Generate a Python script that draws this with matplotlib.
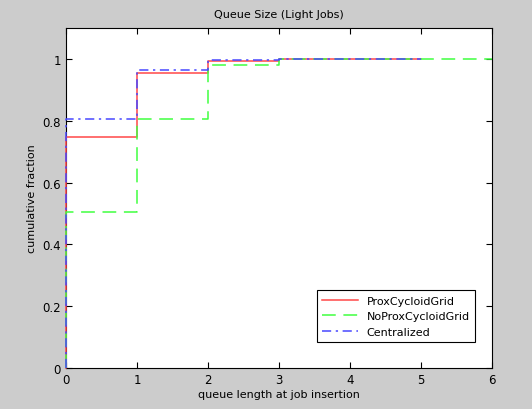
import matplotlib
matplotlib.use('Agg')
import matplotlib.pyplot as plt

# queue length values and cumulative fractions (step, post)
prox_x = [0, 0, 1, 2, 3, 5]
prox_y = [0, 0.749, 0.955, 0.994, 1.0, 1.0]

noprox_x = [0, 0, 1, 2, 3, 6]
noprox_y = [0, 0.504, 0.805, 0.981, 1.0, 1.0]

cent_x = [0, 0, 1, 2, 3, 5]
cent_y = [0, 0.806, 0.964, 0.997, 1.0, 1.0]

labels = ['ProxCycloidGrid', 'NoProxCycloidGrid', 'Centralized']

plt.rcParams['font.family'] = 'DejaVu Sans'
fig = plt.figure(figsize=(5.32, 4.10), dpi=100, facecolor='#cccccc')
ax = fig.add_axes([0.124, 0.1, 0.801, 0.829])

ax.step(prox_x, prox_y, where='post', color='#ff4848', lw=1.1, label=labels[0],
        zorder=3, clip_on=False)
ax.step(noprox_x, noprox_y, where='post', color='#40ff40', lw=1.1,
        dashes=(9, 5), label=labels[1], zorder=3, clip_on=False)
ax.step(cent_x, cent_y, where='post', color='#4848ff', lw=1.1,
        dashes=(6, 3, 1.5, 3), label=labels[2], zorder=3, clip_on=False)

ax.set_xlim(0, 6)
ax.set_ylim(0, 1.1)
ax.set_xticks(range(7))
ax.set_yticks([0, 0.2, 0.4, 0.6, 0.8, 1])
ax.set_yticklabels(['0', '0.2', '0.4', '0.6', '0.8', '1'])
ax.tick_params(direction='in', top=True, right=True, labelsize=8.5, length=4)
for s in ax.spines.values():
    s.set_linewidth(0.8)
    s.set_zorder(2)

ax.set_title('Queue Size (Light Jobs)', fontsize=8, pad=8)
ax.set_xlabel('queue length at job insertion', fontsize=8, labelpad=2)
ax.set_ylabel('cumulative fraction', fontsize=8)

leg = ax.legend(loc='lower right', bbox_to_anchor=(0.974, 0.059), fontsize=8,
                fancybox=False, framealpha=1, edgecolor='black',
                handlelength=3.2, borderpad=0.5, labelspacing=0.5)
leg.get_frame().set_linewidth(0.8)
leg.set_zorder(5)

fig.savefig('out.png', dpi=100, facecolor=fig.get_facecolor())
